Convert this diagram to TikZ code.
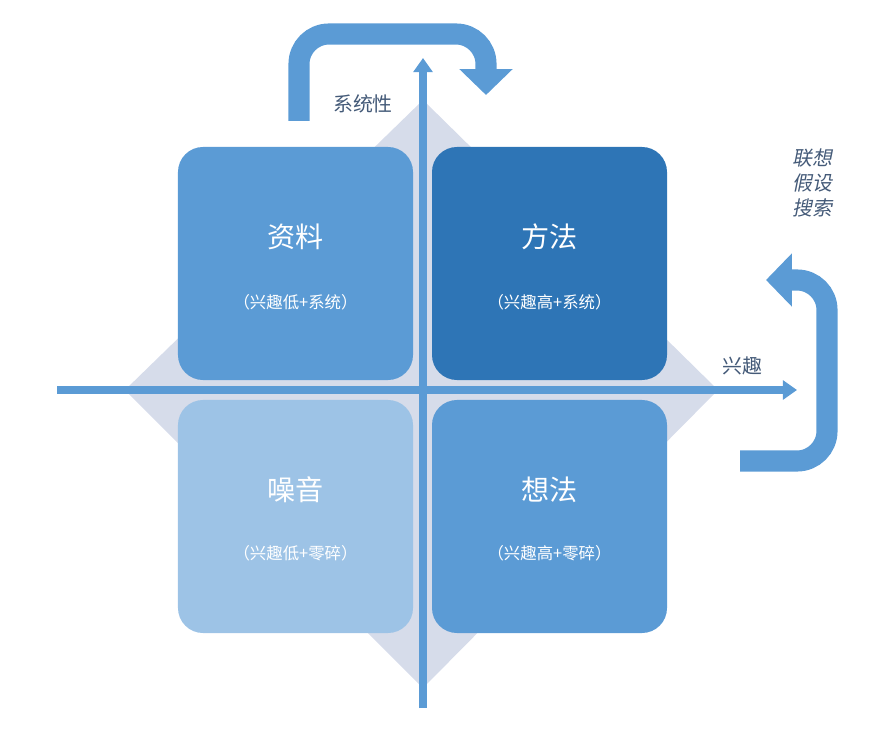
\documentclass[tikz,border=0pt]{standalone}
\usepackage{fontspec}
\setmainfont{Noto Sans CJK SC}
\newfontfamily\cjkit{Noto Sans CJK SC}[FakeSlant=0.2]
\usetikzlibrary{arrows.meta}
\definecolor{midblue}{RGB}{91,155,213}
\definecolor{darkblue}{RGB}{46,117,182}
\definecolor{lightblue}{RGB}{157,195,230}
\definecolor{diamondgray}{RGB}{214,220,234}
\definecolor{labelgray}{RGB}{68,90,120}
\tikzset{
  quadbox/.style={minimum width=7.05cm, minimum height=6.99cm, rounded corners=0.75cm, inner sep=0pt},
  boxtitle/.style={text=white, font=\fontsize{24}{28}\selectfont},
  boxsub/.style={text=white, font=\fontsize{14}{17}\selectfont},
  axislabel/.style={text=labelgray, font=\fontsize{17}{20}\selectfont},
  bigarrow/.style={draw=midblue, line width=18pt, rounded corners=0.9cm, -{Triangle[length=22pt,width=44pt]}},
}
\begin{document}
\begin{tikzpicture}[x=0.03cm, y=-0.03cm]
    \useasboundingbox (0,0) rectangle (878,739);

    % Diamond behind the quadrants
    \fill[diamondgray] (423,100) -- (718,390) -- (423,688) -- (125,390) -- cycle;

    % Quadrants
    \node[quadbox, fill=midblue] (data) at (295.5,263.5) {};
    \node[quadbox, fill=darkblue] (method) at (549.5,263.5) {};
    \node[quadbox, fill=lightblue] (noise) at (295.5,516.5) {};
    \node[quadbox, fill=midblue] (idea) at (549.5,516.5) {};

    \node[boxtitle] (dataT) at (295.5,237) {资料};
    \node[boxsub] (dataS) at (295.5,302) {（兴趣低+系统）};
    \node[boxtitle] (methodT) at (549.5,237) {方法};
    \node[boxsub] (methodS) at (549.5,302) {（兴趣高+系统）};
    \node[boxtitle] (noiseT) at (295.5,490) {噪音};
    \node[boxsub] (noiseS) at (295.5,553) {（兴趣低+零碎）};
    \node[boxtitle] (ideaT) at (549.5,490) {想法};
    \node[boxsub] (ideaS) at (549.5,553) {（兴趣高+零碎）};

    % Axes
    \coordinate (xstart) at (57,390);
    \coordinate (xend) at (797,390);
    \coordinate (ystart) at (423,708);
    \coordinate (yend) at (423,58);
    \draw[midblue, line width=6pt, -{Triangle[length=12pt,width=16pt]}] (xstart) -- (xend);
    \draw[midblue, line width=6pt, -{Triangle[length=12pt,width=16pt]}] (ystart) -- (yend);

    \node[axislabel] (sys) at (363,104) {系统性};
    \node[axislabel] (interest) at (742,366) {兴趣};
    \node[axislabel, align=center, font=\cjkit\fontsize{17}{21}\selectfont] (assoc) at (812,183) {联想\\假设\\搜索};

    % Curved arrows
    \coordinate (topstart) at (299,121);
    \coordinate (toptip) at (486,95);
    \draw[bigarrow] (topstart) -- (299,34) -- (486,34) -- (toptip);
    \coordinate (rightstart) at (740,461);
    \coordinate (righttip) at (766,280);
    \draw[bigarrow] (rightstart) -- (827,461) -- (827,280) -- (righttip);
\end{tikzpicture}
\end{document}
